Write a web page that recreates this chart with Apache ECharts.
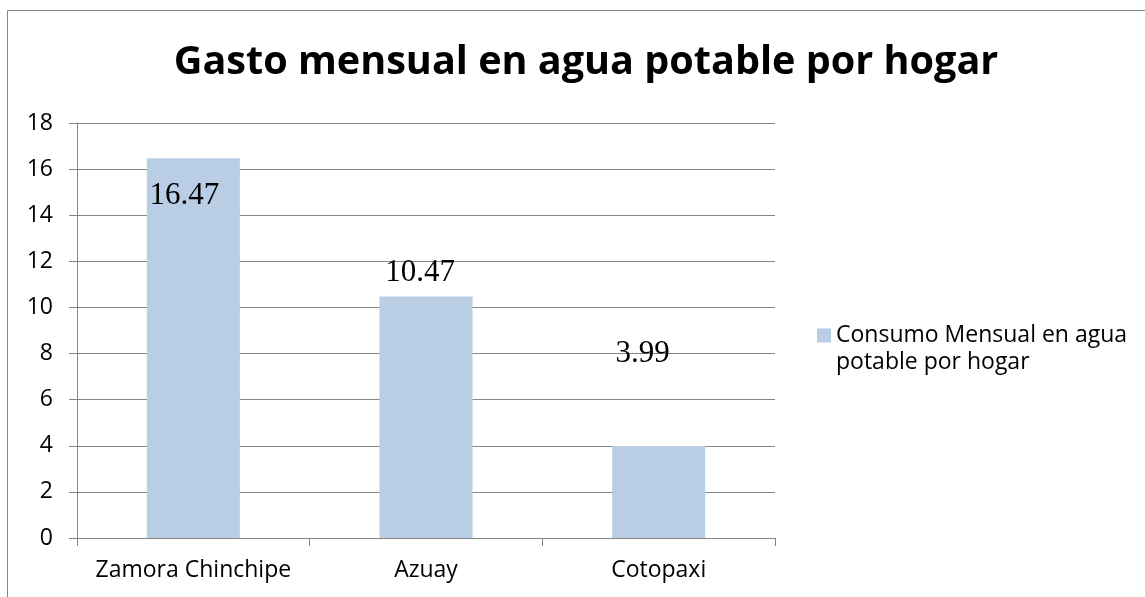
<!DOCTYPE html>
<html>
<head>
<meta charset="utf-8">
<script src="https://cdn.jsdelivr.net/npm/echarts@6/dist/echarts.min.js"></script>
<style>
  html, body { margin: 0; padding: 0; background: #fff; }
  #chart { width: 1145px; height: 597px; }
</style>
</head>
<body>
<div id="chart"></div>
<script>
// datos
const categories = ['Zamora Chinchipe', 'Azuay', 'Cotopaxi'];
const gasto = [16.47, 10.47, 3.99];
const yTicks = [0, 2, 4, 6, 8, 10, 12, 14, 16, 18];
const serieName = 'Consumo Mensual en agua\npotable por hogar';

// desplazamiento de cada etiqueta (movidas a mano en el original)
const labelOffsets = [[-9, 58], [-6, -3], [-16, -72]];

const gris = '#868686';
const sans = '"Open Sans", "Noto Sans", sans-serif';

const chart = echarts.init(document.getElementById('chart'));

const option = {
  animation: false,
  backgroundColor: '#fff',
  title: {
    text: 'Gasto mensual en agua potable por hogar',
    left: 581,
    top: 38,
    textAlign: 'center',
    textStyle: { fontFamily: sans, fontWeight: 'bold', fontSize: 39.6, color: '#000' }
  },
  legend: {
    left: 817,
    top: 295,
    padding: 0,
    itemWidth: 14,
    itemHeight: 14,
    icon: 'rect',
    data: [serieName],
    // linea vacia arriba para que el cuadrito quede con la primera linea
    formatter: name => '\n' + name,
    textStyle: { fontFamily: sans, fontSize: 23, color: '#000', lineHeight: 27 }
  },
  grid: { left: 77, right: 370, top: 123, bottom: 59 },
  xAxis: {
    type: 'category',
    data: categories,
    axisLine: { lineStyle: { color: gris, width: 1 } },
    axisTick: { show: true, length: 8, lineStyle: { color: gris } },
    axisLabel: { interval: 0, fontFamily: sans, fontSize: 23, color: '#000', margin: 21 }
  },
  yAxis: {
    type: 'value',
    min: yTicks[0],
    max: yTicks[yTicks.length - 1],
    interval: yTicks[1] - yTicks[0],
    axisLine: { show: true, lineStyle: { color: gris, width: 1 } },
    axisTick: { show: true, length: 8, lineStyle: { color: gris } },
    axisLabel: { fontFamily: sans, fontSize: 23, color: '#000', margin: 24 },
    splitLine: { lineStyle: { color: gris, width: 1 } }
  },
  series: [{
    name: serieName,
    type: 'bar',
    barWidth: '40%',
    itemStyle: { color: '#B9CDE5' },
    data: gasto.map((v, i) => ({
      value: v,
      label: { offset: labelOffsets[i] }
    })),
    label: {
      show: true,
      position: 'top',
      fontFamily: '"Liberation Serif", "DejaVu Serif", serif',
      fontSize: 31,
      color: '#000'
    }
  }],
  graphic: [{
    type: 'rect',
    shape: { x: 7.5, y: 10.5, width: 1300, height: 800 },
    style: { fill: 'none', stroke: gris, lineWidth: 1 },
    silent: true
  }]
};

chart.setOption(option);
</script>
</body>
</html>
